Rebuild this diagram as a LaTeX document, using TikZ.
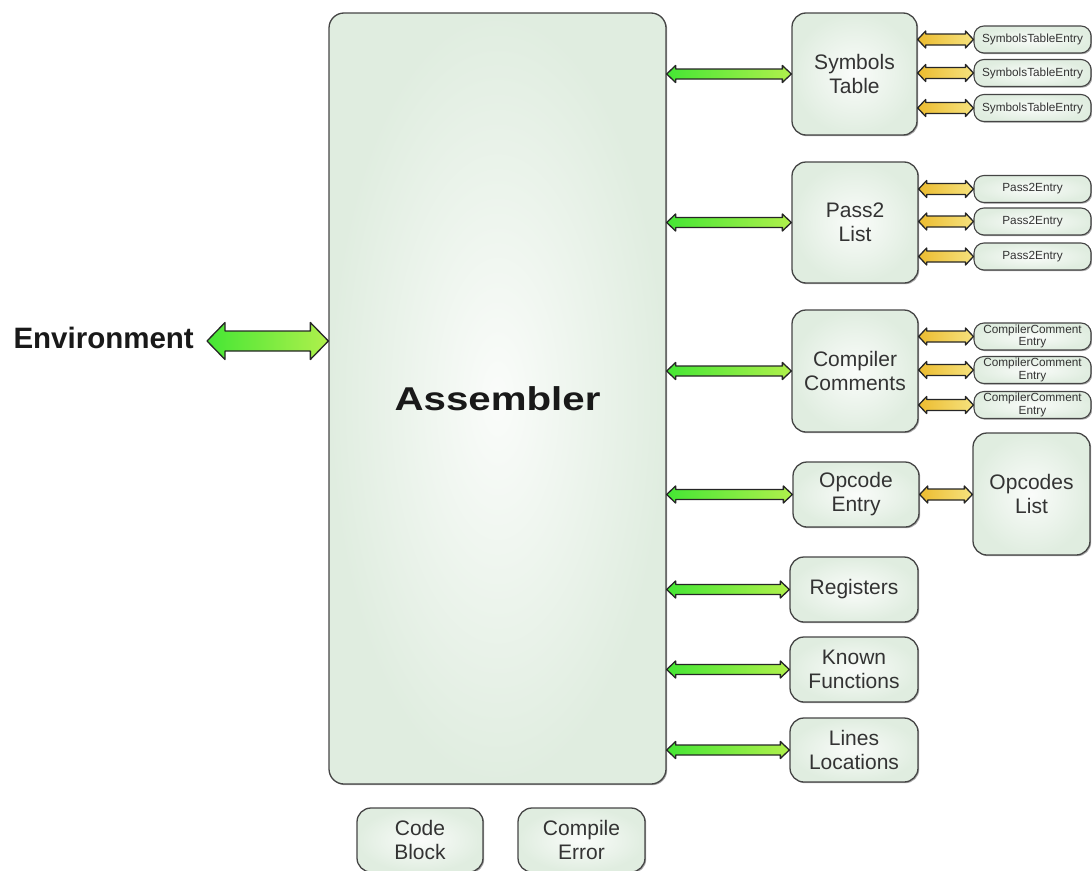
\documentclass[tikz,border=0pt]{standalone}
\usepackage{fontspec}
\setmainfont{Liberation Sans}
\usetikzlibrary{calc,shadows}
\definecolor{boxout}{HTML}{E0EDE0}
\definecolor{boxin}{HTML}{FAFCFA}
\definecolor{boxline}{HTML}{454545}
\definecolor{txt}{HTML}{333333}
\definecolor{gL}{HTML}{45E634}
\definecolor{gR}{HTML}{B0F04C}
\definecolor{yL}{HTML}{ECBC30}
\definecolor{yR}{HTML}{F6E27E}
\definecolor{arrline}{HTML}{262626}
\newcommand\dblarr[6]{%
  \path[#1] let \p1=(#2), \p2=(#3) in
    (\x1,\y1) -- (\x1+#6,\y1+#5) -- (\x1+#6,\y1+#4) -- (\x2-#6,\y1+#4)
    -- (\x2-#6,\y1+#5) -- (\x2,\y1) -- (\x2-#6,\y1-#5) -- (\x2-#6,\y1-#4)
    -- (\x1+#6,\y1-#4) -- (\x1+#6,\y1-#5) -- cycle;}
\tikzset{
  box/.style={draw=boxline, line width=1.3pt, rounded corners=14pt,
    inner color=boxin, outer color=boxout, inner sep=0pt, align=center,
    text=txt, font=\fontsize{21}{24}\selectfont,
    drop shadow={shadow xshift=1.2pt, shadow yshift=-1.2pt, fill=black, opacity=0.35}},
  entry/.style={box, rounded corners=10pt, minimum width=117pt, minimum height=27pt,
    font=\fontsize{11.8}{12.5}\selectfont, line width=1.1pt},
  greenarr/.style={draw=arrline, line width=1.3pt, line join=round, left color=gL, right color=gR},
  yellowarr/.style={draw=arrline, line width=1.3pt, line join=round, left color=yL, right color=yR},
  bigtext/.style={font=\bfseries\fontsize{29.5}{32}\selectfont, text=black!90, inner sep=0pt},
}
\begin{document}
\begin{tikzpicture}[x=1pt,y=-1pt]
\useasboundingbox (0,0) rectangle (1092,870);
\clip (0,0) rectangle (1092,870);
% main block
\node[box, rounded corners=15pt, minimum width=337pt, minimum height=771pt,
      font=\bfseries\fontsize{33}{36}\selectfont, text=black!90] (asm) at (497.5,398.5)
      {\scalebox{1.22}[1]{Assembler}};
\node[bigtext, anchor=east] (env) at (194,338) {Environment};
\coordinate (envL) at (207,341);
% right column
\node[box, minimum width=125pt, minimum height=122pt] (sym) at (854.5,74) {Symbols\\Table};
\node[box, minimum width=126pt, minimum height=121pt] (p2) at (855,222.5) {Pass2\\List};
\node[box, minimum width=126pt, minimum height=122pt] (cc) at (855,371) {Compiler\\Comments};
\node[box, minimum width=126pt, minimum height=65pt] (op) at (856,494.5) {Opcode\\Entry};
\node[box, minimum width=117pt, minimum height=122pt] (opl) at (1031.5,494) {Opcodes\\List};
\node[box, minimum width=128pt, minimum height=65pt] (reg) at (854,589.5) {Registers};
\node[box, minimum width=128pt, minimum height=65pt] (kf) at (854,669.5) {Known\\Functions};
\node[box, minimum width=128pt, minimum height=64pt] (ll) at (854,750) {Lines\\Locations};
% bottom
\node[box, minimum width=126pt, minimum height=64pt] (cb) at (420,840) {Code\\Block};
\node[box, minimum width=127pt, minimum height=64pt] (ce) at (581.5,840) {Compile\\Error};
% entries
\node[entry] (s1) at (1032.5,39.5) {SymbolsTableEntry};
\node[entry] (s2) at (1032.5,73) {SymbolsTableEntry};
\node[entry] (s3) at (1032.5,108) {SymbolsTableEntry};
\node[entry] (q1) at (1032.5,189) {Pass2Entry};
\node[entry] (q2) at (1032.5,221.5) {Pass2Entry};
\node[entry] (q3) at (1032.5,256.5) {Pass2Entry};
\node[entry] (c1) at (1032.5,336.5) {CompilerComment\\Entry};
\node[entry] (c2) at (1032.5,370) {CompilerComment\\Entry};
\node[entry] (c3) at (1032.5,405) {CompilerComment\\Entry};
% green connectors
\dblarr{greenarr}{envL}{asm.west|-envL}{10pt}{18.5pt}{18pt}
\dblarr{greenarr}{asm.east|-sym.west}{sym.west}{5pt}{8.5pt}{9pt}
\dblarr{greenarr}{asm.east|-p2.west}{p2.west}{5pt}{8.5pt}{9pt}
\dblarr{greenarr}{asm.east|-cc.west}{cc.west}{5pt}{8.5pt}{9pt}
\dblarr{greenarr}{asm.east|-op.west}{op.west}{5pt}{8.5pt}{9pt}
\dblarr{greenarr}{asm.east|-reg.west}{reg.west}{5pt}{8.5pt}{9pt}
\dblarr{greenarr}{asm.east|-kf.west}{kf.west}{5pt}{8.5pt}{9pt}
\dblarr{greenarr}{asm.east|-ll.west}{ll.west}{5pt}{8.5pt}{9pt}
% yellow connectors
\foreach \a/\b in {sym/s1,sym/s2,sym/s3,p2/q1,p2/q2,p2/q3,cc/c1,cc/c2,cc/c3}{
  \dblarr{yellowarr}{\a.east|-\b.west}{\b.west}{5.5pt}{8.5pt}{8pt}
}
\dblarr{yellowarr}{op.east}{opl.west|-op.east}{5.5pt}{8.5pt}{8pt}
\end{tikzpicture}
\end{document}
